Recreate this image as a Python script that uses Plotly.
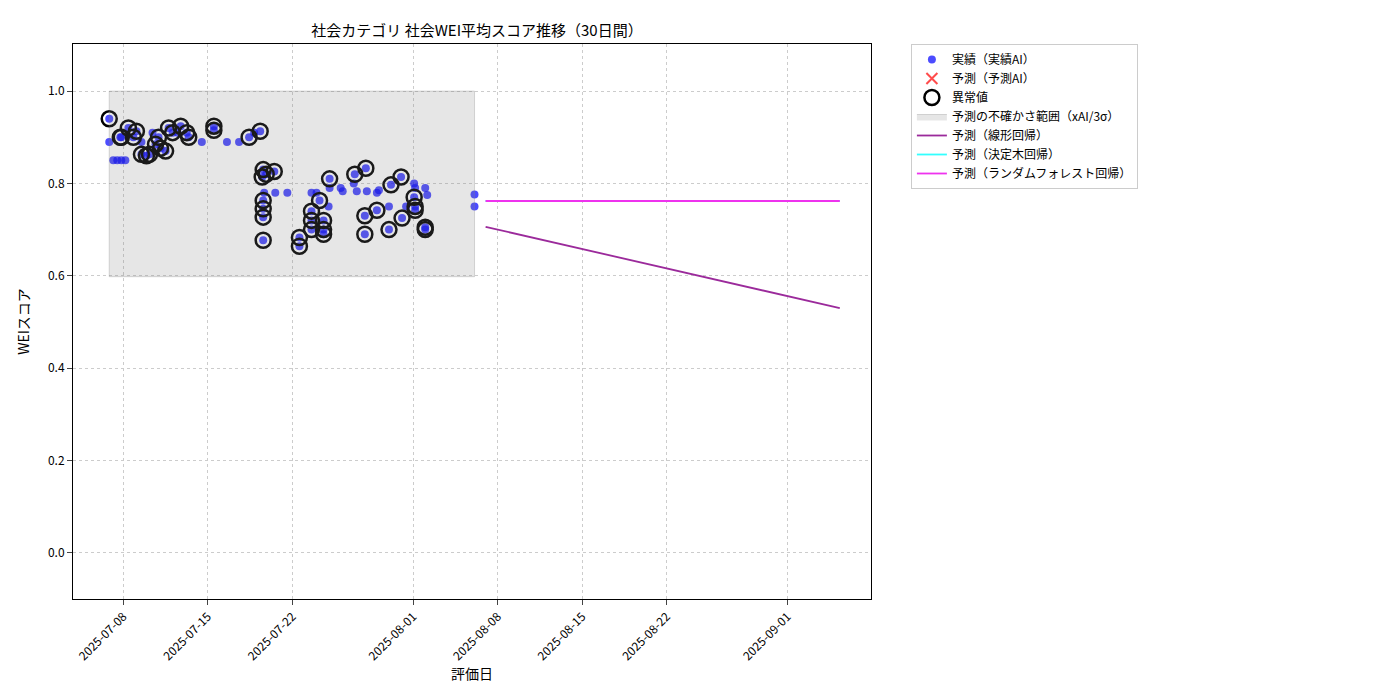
import plotly.graph_objects as go

act_dates = ["2025-07-06 20:00","2025-07-06 20:00","2025-07-07 04:00","2025-07-07 12:00","2025-07-07 20:00","2025-07-08 04:00",
"2025-07-07 18:00","2025-07-08 10:00","2025-07-07 20:00","2025-07-08 20:00","2025-07-09 02:00","2025-07-09 12:00",
"2025-07-09 12:00","2025-07-09 22:00","2025-07-10 04:00","2025-07-10 10:00","2025-07-10 16:00","2025-07-10 22:00",
"2025-07-11 02:00","2025-07-11 12:00","2025-07-11 18:00","2025-07-12 02:00","2025-07-12 12:00","2025-07-12 18:00",
"2025-07-13 06:00","2025-07-13 10:00","2025-07-14 12:00","2025-07-15 12:00","2025-07-15 12:00","2025-07-16 14:00",
"2025-07-17 14:00","2025-07-18 10:00","2025-07-18 20:00","2025-07-19 08:00","2025-07-19 14:00","2025-07-19 12:00",
"2025-07-19 20:00","2025-07-20 12:00","2025-07-19 16:00","2025-07-20 14:00","2025-07-21 14:00","2025-07-19 14:00",
"2025-07-19 14:00","2025-07-19 14:00","2025-07-19 14:00","2025-07-22 14:00","2025-07-22 14:00","2025-07-23 14:00",
"2025-07-23 14:00","2025-07-23 14:00","2025-07-23 14:00","2025-07-24 00:00","2025-07-24 06:00","2025-07-24 14:00",
"2025-07-24 14:00","2025-07-24 14:00","2025-07-25 00:00","2025-07-25 02:00","2025-07-25 02:00","2025-07-26 00:00",
"2025-07-26 04:00","2025-07-27 02:00","2025-07-27 04:00","2025-07-27 08:00","2025-07-28 02:00","2025-07-28 04:00",
"2025-07-28 00:00","2025-07-28 00:00","2025-07-29 00:00","2025-07-29 04:00","2025-07-29 00:00","2025-07-30 00:00",
"2025-07-30 00:00","2025-07-30 04:00","2025-07-31 00:00","2025-07-31 02:00","2025-07-31 10:00","2025-08-01 02:00",
"2025-08-01 04:00","2025-08-01 02:00","2025-08-01 04:00","2025-08-01 04:00","2025-08-02 00:00","2025-08-02 04:00",
"2025-08-02 00:00","2025-08-02 00:00","2025-08-06 02:00","2025-08-06 02:00"]
act_vals = [0.94,0.89,0.85,0.85,0.85,0.85,
0.90,0.92,0.90,0.90,0.913,0.89,
0.863,0.86,0.863,0.91,0.885,0.90,
0.876,0.87,0.92,0.91,0.91,0.924,
0.91,0.90,0.89,0.924,0.915,0.89,
0.89,0.90,0.91,0.913,0.83,0.814,
0.82,0.826,0.78,0.78,0.78,0.763,
0.745,0.727,0.677,0.683,0.664,0.78,
0.74,0.72,0.70,0.78,0.763,0.72,
0.70,0.69,0.75,0.81,0.79,0.79,
0.783,0.80,0.82,0.783,0.833,0.783,
0.73,0.69,0.78,0.785,0.742,0.75,
0.70,0.797,0.814,0.725,0.75,0.80,
0.79,0.77,0.75,0.742,0.79,0.775,
0.705,0.70,0.776,0.75]
anomaly_idx = [0,6,7,8,9,10,12,13,14,16,17,18,19,20,21,23,24,25,27,28,31,33,34,35,36,37,41,42,43,44,45,46,
48,49,50,52,53,54,55,57,62,64,66,67,70,72,73,74,75,79,80,81,84,85]

band_x = ["2025-07-06 20:00","2025-08-06 02:00"]
band_lo, band_hi = 0.598, 1.0
pred_dates = ["2025-08-07 00:00","2025-09-05 08:00"]
pred_lin = [0.706,0.530]
pred_tree = [0.762,0.762]
pred_rf = [0.762,0.762]

fig = go.Figure()
fig.add_trace(go.Scatter(x=act_dates, y=act_vals, mode="markers", name="実績（実績AI）",
    marker=dict(color="rgba(0,0,255,0.7)", size=8)))
fig.add_trace(go.Scatter(x=[None], y=[None], mode="markers", name="予測（予測AI）",
    marker=dict(color="rgba(255,0,0,0.7)", symbol="x-thin", size=11, line=dict(color="rgba(255,0,0,0.7)", width=2))))
fig.add_trace(go.Scatter(x=[act_dates[i] for i in anomaly_idx], y=[act_vals[i] for i in anomaly_idx],
    mode="markers", name="異常値",
    marker=dict(color="rgba(0,0,0,0)", size=15, line=dict(color="black", width=2.5))))
fig.add_trace(go.Scatter(x=[band_x[0], band_x[1], band_x[1], band_x[0], band_x[0]],
    y=[band_lo, band_lo, band_hi, band_hi, band_lo], fill="toself", mode="lines",
    fillcolor="rgba(128,128,128,0.2)", line=dict(color="rgba(128,128,128,0.3)", width=1),
    name="予測の不確かさ範囲（xAI/3σ）"))
fig.add_trace(go.Scatter(x=pred_dates, y=pred_lin, mode="lines", name="予測（線形回帰）",
    line=dict(color="#9b2a9b", width=1.8)))
fig.add_trace(go.Scatter(x=pred_dates, y=pred_tree, mode="lines", name="予測（決定木回帰）",
    line=dict(color="#33ffff", width=1.8)))
fig.add_trace(go.Scatter(x=pred_dates, y=pred_rf, mode="lines", name="予測（ランダムフォレスト回帰）",
    line=dict(color="#ee33ee", width=1.8)))

tickv = ["2025-07-08","2025-07-15","2025-07-22","2025-08-01","2025-08-08","2025-08-15","2025-08-22","2025-09-01"]
fig.update_layout(
    width=1400, height=700, paper_bgcolor="white", plot_bgcolor="white",
    font=dict(family="Noto Sans CJK JP", size=12, color="black"),
    margin=dict(l=65, r=537, t=36, b=109),
    title=dict(text="社会カテゴリ 社会WEI平均スコア推移（30日間）", x=0.335, xanchor="center", y=0.975, font=dict(size=15)),
    legend=dict(x=1.05, y=1.0, xanchor="left", yanchor="top", bordercolor="#cccccc", borderwidth=1,
                font=dict(size=12), tracegroupgap=0),
    showlegend=True,
)
fig.update_xaxes(range=["2025-07-03 20:00","2025-09-07 22:00"], tickvals=tickv, ticktext=tickv,
    tickangle=-45, showgrid=True, gridcolor="#cccccc", griddash="dot", showline=True, linecolor="black",
    mirror=True, ticks="outside", title=dict(text="評価日", standoff=4), zeroline=False)
fig.update_yaxes(range=[-0.1,1.102], tickvals=[0,0.2,0.4,0.6,0.8,1.0], tickformat=".1f",
    showgrid=True, gridcolor="#cccccc", griddash="dot", showline=True, linecolor="black",
    mirror=True, ticks="outside", title=dict(text="WEIスコア"), zeroline=False)
fig.write_html("out.html")
